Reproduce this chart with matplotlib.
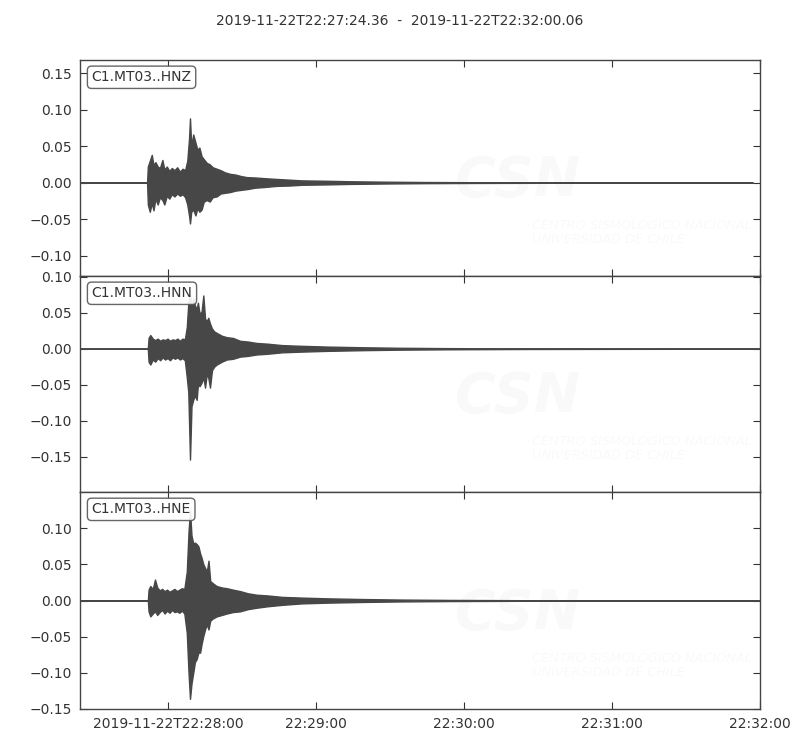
import numpy as np
import matplotlib
matplotlib.use("Agg")
import matplotlib.pyplot as plt

# ---------------- data ----------------
title_text = "2019-11-22T22:27:24.36  -  2019-11-22T22:32:00.06"
start_time = "2019-11-22T22:27:24.360"
end_time = "2019-11-22T22:32:00.060"
channels = ["C1.MT03..HNZ", "C1.MT03..HNN", "C1.MT03..HNE"]

xtick_times = ["2019-11-22T22:28:00", "2019-11-22T22:29:00", "2019-11-22T22:30:00",
               "2019-11-22T22:31:00", "2019-11-22T22:32:00"]
xtick_labels = ["2019-11-22T22:28:00", "22:29:00", "22:30:00", "22:31:00", "22:32:00"]

# envelope (seconds after start, upper, lower)
z_t = [0, 27.2, 27.5, 28.3, 29.1, 29.8, 30.6, 31.5, 32.4, 33.4, 34.2, 35.2, 36.2, 37.2, 38.3,
       39.4, 40.5, 41.6, 42.6, 43.5, 44.2, 44.6, 45.1, 45.9, 46.8, 47.6, 48.4, 49.3, 50.2,
       51.4, 52.6, 53.8, 55.4, 57.0, 58.8, 60.8, 63.0, 65.2, 67.6, 71, 75, 79.7, 85, 90,
       100, 110, 125, 140, 160, 200, 272.8]
z_up = [0, 0, 0.022, 0.030, 0.038, 0.024, 0.028, 0.022, 0.020, 0.031, 0.018, 0.022, 0.016,
        0.020, 0.017, 0.021, 0.015, 0.019, 0.017, 0.030, 0.060, 0.088, 0.050, 0.066, 0.055,
        0.045, 0.048, 0.036, 0.032, 0.027, 0.025, 0.021, 0.019, 0.017, 0.014, 0.012, 0.011,
        0.009, 0.0075, 0.007, 0.006, 0.005, 0.004, 0.003, 0.0025, 0.0018, 0.0012, 0.0008,
        0.0005, 0.0002, 0]
z_lo = [0, 0, -0.030, -0.040, -0.028, -0.038, -0.022, -0.030, -0.020, -0.024, -0.030,
        -0.018, -0.022, -0.016, -0.019, -0.015, -0.018, -0.016, -0.020, -0.030, -0.045,
        -0.056, -0.040, -0.037, -0.045, -0.035, -0.040, -0.037, -0.026, -0.024, -0.026,
        -0.020, -0.019, -0.015, -0.014, -0.013, -0.011, -0.010, -0.009, -0.007, -0.006,
        -0.0045, -0.004, -0.003, -0.0025, -0.0018, -0.0012, -0.0008, -0.0005, -0.0002, 0]

n_t = [0, 27.5, 27.8, 28.5, 29.5, 30.5, 31.5, 32.5, 33.5, 34.5, 35.5, 36.5, 37.5, 38.5, 39.5,
       40.5, 41.5, 42.5, 43.3, 43.9, 44.6, 45.2, 45.9, 46.6, 47.3, 47.8, 48.5, 49.3, 50.0,
       50.7, 51.4, 52.0, 52.7, 53.5, 54.4, 55.4, 57.5, 59.5, 62.0, 64.9, 68, 71.6, 76, 82,
       90, 100, 115, 130, 150, 180, 220, 275.5]
n_up = [0, 0, 0.015, 0.019, 0.014, 0.012, 0.014, 0.011, 0.013, 0.012, 0.014, 0.011, 0.013,
        0.012, 0.014, 0.011, 0.014, 0.013, 0.030, 0.063, 0.075, 0.058, 0.070, 0.060, 0.055,
        0.064, 0.048, 0.052, 0.074, 0.042, 0.038, 0.043, 0.035, 0.028, 0.024, 0.022, 0.018,
        0.016, 0.015, 0.011, 0.010, 0.008, 0.007, 0.005, 0.004, 0.003, 0.002, 0.0013, 0.0008,
        0.0004, 0.0002, 0]
n_lo = [0, 0, -0.018, -0.022, -0.015, -0.018, -0.013, -0.016, -0.012, -0.015, -0.013,
        -0.016, -0.012, -0.014, -0.012, -0.015, -0.013, -0.016, -0.040, -0.060, -0.154,
        -0.080, -0.071, -0.065, -0.071, -0.050, -0.052, -0.047, -0.040, -0.054, -0.035,
        -0.040, -0.054, -0.030, -0.025, -0.022, -0.018, -0.015, -0.014, -0.011, -0.010,
        -0.008, -0.007, -0.005, -0.004, -0.003, -0.002, -0.0013, -0.0008, -0.0004, -0.0002, 0]

e_t = [0, 27.5, 27.8, 28.5, 29.5, 30.4, 31.3, 32.3, 33.3, 34.3, 35.3, 36.3, 37.3, 38.3, 39.3,
       40.3, 41.3, 42.3, 43.3, 44.0, 44.6, 45.2, 45.9, 46.6, 47.3, 48.0, 48.7, 49.3, 50.0,
       50.7, 51.4, 52.1, 52.8, 53.8, 55.4, 57.5, 59.5, 62.0, 64.9, 68, 71.6, 76, 82, 90, 100,
       115, 130, 150, 180, 220, 275.6]
e_up = [0, 0, 0.015, 0.020, 0.016, 0.029, 0.018, 0.014, 0.016, 0.013, 0.015, 0.012, 0.014,
        0.016, 0.013, 0.015, 0.017, 0.016, 0.040, 0.095, 0.125, 0.090, 0.079, 0.080, 0.078,
        0.075, 0.065, 0.059, 0.050, 0.045, 0.040, 0.055, 0.027, 0.024, 0.020, 0.018, 0.017,
        0.015, 0.013, 0.010, 0.008, 0.007, 0.005, 0.004, 0.003, 0.002, 0.0013, 0.0008,
        0.0004, 0.0002, 0]
e_lo = [0, 0, -0.015, -0.022, -0.018, -0.015, -0.020, -0.016, -0.013, -0.018, -0.014,
        -0.017, -0.013, -0.016, -0.015, -0.017, -0.014, -0.018, -0.045, -0.100, -0.136,
        -0.115, -0.100, -0.085, -0.081, -0.072, -0.072, -0.060, -0.049, -0.040, -0.033,
        -0.040, -0.028, -0.025, -0.022, -0.020, -0.018, -0.016, -0.015, -0.012, -0.010,
        -0.008, -0.006, -0.004, -0.003, -0.002, -0.0013, -0.0008, -0.0004, -0.0002, 0]

ylims = [(-0.128, 0.168), (-0.199, 0.101), (-0.150, 0.150)]
yticks = [[-0.10, -0.05, 0.00, 0.05, 0.10, 0.15],
          [-0.15, -0.10, -0.05, 0.00, 0.05, 0.10],
          [-0.15, -0.10, -0.05, 0.00, 0.05, 0.10]]

traces = [(z_t, z_up, z_lo), (n_t, n_up, n_lo), (e_t, e_up, e_lo)]

# ---------------- plot ----------------
TXT = "#333333"
TRC = "#474747"
plt.rcParams["font.family"] = ["DejaVu Sans"]
plt.rcParams["font.size"] = 10

fig = plt.figure(figsize=(8, 7.5), dpi=100)
t0 = np.datetime64(start_time)
t_end = np.datetime64(end_time)

lefts = 0.10
width = 0.85
bottoms = [1 - 276 / 750, 1 - 492 / 750, 1 - 709 / 750]
heights = [216 / 750, 216 / 750, 217 / 750]

for i, (ch, (tt, up, lo)) in enumerate(zip(channels, traces)):
    ax = fig.add_axes([lefts, bottoms[i], width, heights[i]])
    times = t0 + (np.asarray(tt) * 1e6).astype("int64").astype("timedelta64[us]")
    ax.fill_between(times, lo, up, color=TRC, linewidth=1.0, edgecolor=TRC, zorder=2)
    ax.set_xlim(t0, t_end)
    ax.set_ylim(*ylims[i])
    ax.set_yticks(yticks[i])
    xt = [np.datetime64(s) for s in xtick_times]
    ax.set_xticks(xt)
    if i == 2:
        ax.set_xticklabels(xtick_labels)
    else:
        ax.set_xticklabels([])
    ax.tick_params(direction="in", top=True, right=True, length=5, width=0.8,
                   colors=TXT, labelcolor=TXT, labelsize=10, pad=6)
    for sp in ax.spines.values():
        sp.set_color("#444444")
        sp.set_linewidth(1.0)
    # faint watermark
    ax.text(0.551, 0.44, "CSN", transform=ax.transAxes, fontsize=40, fontweight="bold",
            fontstyle="italic", color="#000000", alpha=0.025, ha="left", va="center",
            zorder=1, clip_on=True)
    ax.text(0.665, 0.20, "CENTRO SISMOLÓGICO NACIONAL\nUNIVERSIDAD DE CHILE",
            transform=ax.transAxes, fontsize=9.3, fontstyle="italic", color="#000000",
            alpha=0.025, ha="left", va="center", linespacing=1.1, zorder=1, clip_on=True)
    ax.text(0.017, 0.92, ch, transform=ax.transAxes, fontsize=10, color=TXT,
            ha="left", va="center", zorder=5,
            bbox=dict(boxstyle="round,pad=0.3", facecolor="white", edgecolor="#555555",
                      linewidth=1.0, alpha=0.9))

fig.text(0.5, 1 - 21 / 750, title_text, ha="center", va="center", fontsize=10, color=TXT)
fig.savefig("out.png", dpi=100)
